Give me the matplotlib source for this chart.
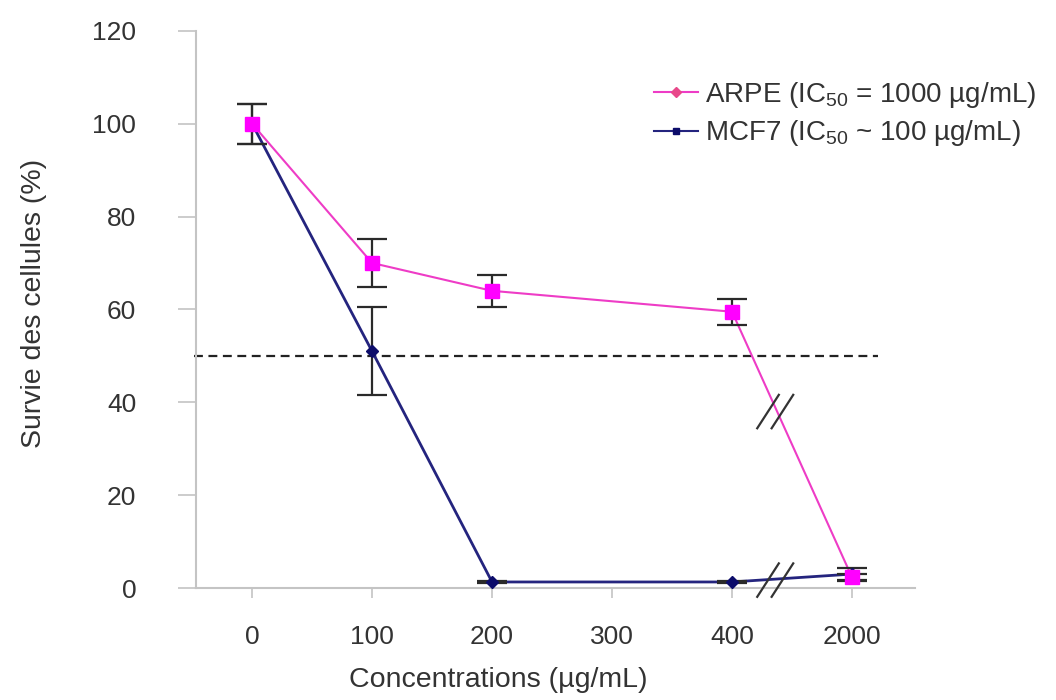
"""Cell survival versus concentration for ARPE and MCF7 cells."""

import matplotlib

matplotlib.use("Agg")
import matplotlib.pyplot as plt  # noqa: E402
from matplotlib.lines import Line2D  # noqa: E402

plt.rcParams["font.family"] = ["Liberation Sans", "DejaVu Sans"]

categories = ["0", "100", "200", "300", "400", "2000"]
tested = ["0", "100", "200", "400", "2000"]

arpe_survival = [100, 70, 64, 59.5, 2.3]
arpe_error = [4.3, 5.1, 3.5, 2.8, 0.8]
mcf7_survival = [100, 51, 1.3, 1.3, 3.0]
mcf7_error = [4.3, 9.5, 0.3, 0.3, 1.3]

y_ticks = [0, 20, 40, 60, 80, 100, 120]
ic50_level = 50

arpe_label = r"ARPE (I$\mathregular{C_{50}}$ = 1000 µg/mL)"
mcf7_label = r"MCF7 (I$\mathregular{C_{50}}$ ~ 100 µg/mL)"

ARPE_LINE = "#ee3cc6"
ARPE_MARK = "#ff00ff"
MCF7_LINE = "#24247e"
MCF7_MARK = "#0c0c6a"
AXIS_GREY = "#c4c4c4"
TEXT = "#333333"

x = [categories.index(c) for c in tested]

figure = plt.figure(figsize=(10.56, 7), dpi=100)
axis = figure.add_axes([0.1856, 0.16, 0.6809, 0.796])

# MCF7 first so the ARPE squares sit on top
axis.plot(x, mcf7_survival, color=MCF7_LINE, linewidth=2.0, zorder=3)
axis.errorbar(x, mcf7_survival, yerr=mcf7_error, fmt="none", ecolor="#2a2a2a",
              elinewidth=1.6, capsize=11, capthick=1.6, zorder=4)
axis.plot(x, mcf7_survival, linestyle="none", marker="D", markersize=6,
          color=MCF7_MARK, zorder=5)

axis.plot(x, arpe_survival, color=ARPE_LINE, linewidth=1.5, zorder=3)
axis.errorbar(x, arpe_survival, yerr=arpe_error, fmt="none", ecolor="#2a2a2a",
              elinewidth=1.6, capsize=11, capthick=1.6, zorder=4)
axis.plot(x, arpe_survival, linestyle="none", marker="s", markersize=10,
          color=ARPE_MARK, zorder=6)

# IC50 reference line
axis.plot([-0.48, 5.22], [ic50_level, ic50_level], linestyle=(0, (4, 2.5)),
          color="#222222", linewidth=1.6, zorder=2, clip_on=False)

# axis break marks "//"
for level in (38.0, 1.7):
    for offset in (-0.06, 0.06):
        cx = 4.36 + offset
        axis.plot([cx - 0.09, cx + 0.09], [level - 3.6, level + 3.6],
                  color="#333333", linewidth=1.6, zorder=7, clip_on=False)

axis.set_xlim(-0.467, 5.525)
axis.set_ylim(0, 120)
axis.set_xticks(range(len(categories)))
axis.set_xticklabels(categories)
axis.set_yticks(y_ticks)

for side in ("top", "right"):
    axis.spines[side].set_visible(False)
for side in ("left", "bottom"):
    axis.spines[side].set_color(AXIS_GREY)
    axis.spines[side].set_linewidth(1.5)

axis.tick_params(axis="y", length=13, width=1.2, color=AXIS_GREY, pad=30,
                 labelsize=19, labelcolor=TEXT)
axis.tick_params(axis="x", length=7, width=1.2, color=AXIS_GREY, pad=20,
                 labelsize=19, labelcolor=TEXT)

axis.set_xlabel("Concentrations (µg/mL)", fontsize=20.5, color=TEXT)
axis.xaxis.set_label_coords(0.42, -0.142)
axis.set_ylabel("Survie des cellules (%)", fontsize=20.5, color=TEXT)
axis.yaxis.set_label_coords(-0.207, 0.51)

handles = [
    Line2D([], [], color=ARPE_LINE, linewidth=1.5, marker="D", markersize=5,
           markerfacecolor="#e8488a", markeredgecolor="#e8488a"),
    Line2D([], [], color=MCF7_LINE, linewidth=1.5, marker="s", markersize=5,
           markerfacecolor=MCF7_MARK, markeredgecolor=MCF7_MARK),
]
axis.legend(handles, [arpe_label, mcf7_label], loc="upper left",
            bbox_to_anchor=(654 / 1056, 1 - 80 / 700),
            bbox_transform=figure.transFigure, frameon=False, fontsize=20,
            handlelength=1.6, handletextpad=0.25, labelspacing=0.3,
            borderpad=0, borderaxespad=0, labelcolor=TEXT)

figure.savefig("out.png", dpi=100)
plt.close(figure)
